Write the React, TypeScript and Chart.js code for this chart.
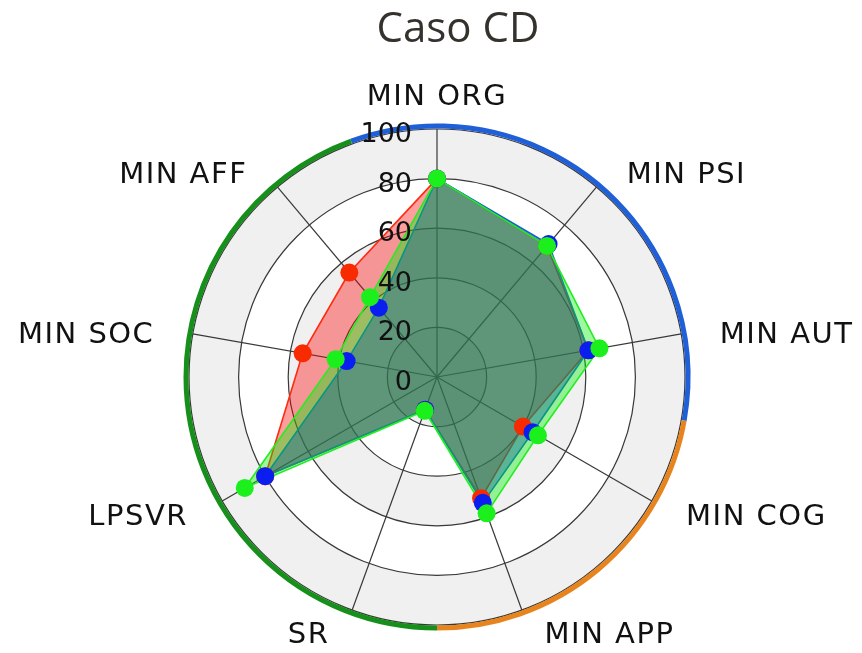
import React, { useEffect, useRef } from "react";
import { Chart, registerables } from "chart.js";

Chart.register(...registerables);

const TITLE = "Caso CD";
const CATEGORIES = ["MIN ORG", "MIN PSI", "MIN AUT", "MIN COG", "MIN APP", "SR", "LPSVR", "MIN SOC", "MIN AFF"];
const RED_VALUES = [80, 69, 62, 40, 52, 14, 80, 55, 55];
const BLUE_VALUES = [80, 70, 62, 44.5, 54, 14, 80, 37, 36.5];
const GREEN_VALUES = [80, 69, 66.5, 47, 58.5, 14.5, 89.5, 41.5, 42];
const TICK_VALUES = [0, 20, 40, 60, 80, 100];
const TICK_LABELS = ["0", "20", "40", "60", "80", "100"];
const GROUP_SIZES = [3, 2, 4];

const GROUP_COLORS = ["#1f5fd8", "#e8841e", "#16901a"];
const BAND_GRAY = "#f0f0f0";
const LABEL_SIZE = 29;
const LABEL_FONT = `${LABEL_SIZE}px 'DejaVu Sans', Verdana, sans-serif`;
const TICK_FONT = "27px 'DejaVu Sans', Verdana, sans-serif";

const SERIES = [
  { name: "red", values: RED_VALUES, line: "#ff2a10", fill: "rgba(255,0,0,0.38)", point: "#f82a00" },
  { name: "blue", values: BLUE_VALUES, line: "#1060d0", fill: "rgba(0,0,255,0.4)", point: "#0a1ef0" },
  { name: "green", values: GREEN_VALUES, line: "#22ee22", fill: "rgba(0,240,0,0.38)", point: "#1cf01c" },
];

const decorPlugin = {
  id: "decor",
  beforeDraw(chart: any) {
    const s = chart.scales.r;
    const ctx = chart.ctx;
    ctx.save();
    for (let i = TICK_VALUES.length - 1; i > 0; i--) {
      const r = s.getDistanceFromCenterForValue(TICK_VALUES[i]);
      ctx.beginPath();
      ctx.arc(s.xCenter, s.yCenter, r, 0, Math.PI * 2);
      ctx.fillStyle = (TICK_VALUES.length - 1 - i) % 2 === 0 ? BAND_GRAY : "#ffffff";
      ctx.fill();
    }
    ctx.restore();
  },
  afterDatasetsDraw(chart: any) {
    const s = chart.scales.r;
    const ctx = chart.ctx;
    const n = CATEGORIES.length;
    const R = s.drawingArea;
    const k = R / 248;
    const step = (Math.PI * 2) / n;
    const a0 = s.getIndexAngle(0);
    ctx.save();
    // outer group arcs
    let start = 0;
    GROUP_SIZES.forEach((size, gi) => {
      const from = a0 + (start - 0.5) * step - Math.PI / 2;
      const to = a0 + (start + size - 0.5) * step - Math.PI / 2;
      ctx.beginPath();
      ctx.arc(s.xCenter, s.yCenter, R + 3, from, to);
      ctx.strokeStyle = GROUP_COLORS[gi];
      ctx.lineWidth = 5;
      ctx.stroke();
      start += size;
    });
    // category labels
    ctx.font = LABEL_FONT;
    (ctx as any).letterSpacing = "1.5px";
    ctx.fillStyle = "#111111";
    ctx.textBaseline = "middle";
    CATEGORIES.forEach((label, i) => {
      const a = s.getIndexAngle(i);
      const sn = Math.sin(a);
      const cs = Math.cos(a);
      const centered = Math.abs(sn) < 0.1;
      ctx.textAlign = centered ? "center" : sn > 0 ? "left" : "right";
      const rx = k * (287 + 40 * Math.pow(cs, 6));
      const x = s.xCenter + rx * sn;
      const y = s.yCenter - k * 270 * cs + 5 - (centered ? LABEL_SIZE * 0.5 : 0);
      ctx.fillText(label, x, y);
    });
    // tick labels
    (ctx as any).letterSpacing = "0px";
    ctx.font = TICK_FONT;
    ctx.textAlign = "right";
    ctx.textBaseline = "middle";
    TICK_VALUES.forEach((v, i) => {
      const d = s.getDistanceFromCenterForValue(v);
      ctx.fillText(TICK_LABELS[i], s.xCenter - 25, s.yCenter - d + 6);
    });
    ctx.restore();
  },
};

export default function App() {
  const ref = useRef<HTMLCanvasElement | null>(null);
  useEffect(() => {
    if (!ref.current) return;
    const n = SERIES.length;
    const lineSets = SERIES.map((sr, i) => ({
      label: sr.name,
      data: sr.values,
      borderColor: sr.line,
      backgroundColor: sr.fill,
      borderWidth: 1.6,
      pointRadius: 0,
      pointHoverRadius: 0,
      fill: true,
      order: 2 * n - i,
    }));
    const pointSets = SERIES.map((sr, i) => ({
      label: sr.name + " points",
      data: sr.values,
      showLine: false,
      fill: false,
      borderColor: sr.point,
      backgroundColor: sr.point,
      pointBackgroundColor: sr.point,
      pointBorderColor: sr.point,
      pointRadius: 9,
      pointBorderWidth: 0,
      order: n - i,
    }));
    const chart = new Chart(ref.current, {
      type: "radar",
      data: {
        labels: CATEGORIES,
        datasets: [...lineSets, ...pointSets],
      },
      options: {
        responsive: false,
        animation: false,
        layout: { padding: { left: 189, right: 177, top: 129, bottom: 28 } },
        plugins: {
          legend: { display: false },
          tooltip: { enabled: false },
          title: { display: false },
          filler: { drawTime: "beforeDatasetDraw" },
        },
        elements: { line: { tension: 0 } },
        scales: {
          r: {
            min: 0,
            max: 100,
            ticks: { display: false, stepSize: 20 },
            pointLabels: { display: false },
            grid: { circular: true, color: "#383838", lineWidth: 1.2 },
            angleLines: { color: "#383838", lineWidth: 1.2 },
          },
        },
      },
      plugins: [decorPlugin],
    } as any);
    return () => chart.destroy();
  }, []);

  return (
    <div style={{ position: "fixed", left: 0, top: 0, width: 862, height: 653, background: "#ffffff" }}>
      <canvas ref={ref} width={862} height={653} style={{ display: "block", position: "absolute", left: 0, top: 0 }} />
      <div
        style={{
          position: "absolute",
          left: 0,
          top: 5,
          width: 916,
          textAlign: "center",
          fontFamily: "'Open Sans', sans-serif",
          fontSize: 42,
          lineHeight: 1,
          color: "#35322e",
          whiteSpace: "nowrap",
        }}
      >
        {TITLE}
      </div>
    </div>
  );
}
